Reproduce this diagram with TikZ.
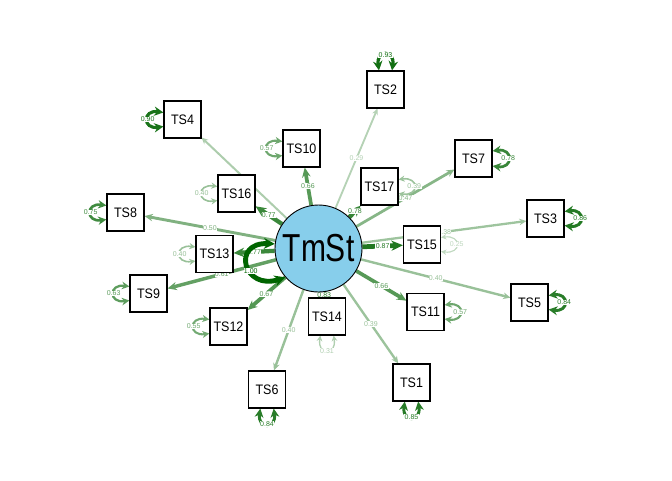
\documentclass[tikz,border=0pt]{standalone}
\usepackage{fontspec}
\setmainfont{Liberation Sans}
\usetikzlibrary{arrows.meta,calc}
\definecolor{gr}{RGB}{0,100,0}
\definecolor{lat}{RGB}{135,206,235}
\pgfdeclarelayer{bg}
\pgfsetlayers{bg,main}
\newcommand\tallA[1]{\scalebox{1}[1.1]{#1}}
\newcommand\tallB[1]{\scalebox{1}[1.3]{#1}}
\tikzset{
  mv/.style={draw, fill=white, line width=1.1pt, minimum size=37pt, inner sep=0pt,
    font=\fontsize{12.5}{14}\selectfont},
  lv/.style={circle, draw, fill=lat, line width=0.9pt, minimum size=87pt, inner sep=0pt,
    font=\fontsize{30}{32}\selectfont},
  ld/.style={draw=gr!#1!white, line width=0.4pt+0.05pt*#1,
    -{Stealth[length=3pt 1.8, width=3pt 1.5]}},
  rs/.style={draw=gr!#1!white, line width=0.4pt+0.03pt*#1,
    {Stealth[length=3pt 2, width=3pt 2]}-{Stealth[length=3pt 2, width=3pt 2]}},
  vs/.style={draw=gr!#1!white, line width=0.4pt+0.045pt*#1,
    {Stealth[length=3pt 1.6, width=3pt 1.6]}-{Stealth[length=3pt 1.6, width=3pt 1.6]}},
  elab/.style={text=gr!#1!white, fill=white, inner sep=0.4pt,
    font=\fontsize{7}{8}\selectfont},
}
\begin{document}
\begin{tikzpicture}[x=1pt,y=-1pt]
\useasboundingbox (0,0) rectangle (672,480);
% nodes
\node[lv] (TmSt) at (318.5,248.5) {\tallB{TmSt}};
\node[mv] (TS1)  at (411.5,382.5) {\tallA{TS1}};
\node[mv] (TS2)  at (385.5,89.5)  {\tallA{TS2}};
\node[mv] (TS3)  at (545.5,218.5) {\tallA{TS3}};
\node[mv] (TS4)  at (182.5,119.5) {\tallA{TS4}};
\node[mv] (TS5)  at (529.5,302.5) {\tallA{TS5}};
\node[mv] (TS6)  at (267,389.5)   {\tallA{TS6}};
\node[mv] (TS7)  at (473.5,158.5) {\tallA{TS7}};
\node[mv] (TS8)  at (125.5,212.5) {\tallA{TS8}};
\node[mv] (TS9)  at (148.5,293.5) {\tallA{TS9}};
\node[mv] (TS10) at (301.5,148.5) {\tallA{TS10}};
\node[mv] (TS11) at (425.5,312)   {\tallA{TS11}};
\node[mv] (TS12) at (228.5,326.5) {\tallA{TS12}};
\node[mv] (TS13) at (214.5,254)   {\tallA{TS13}};
\node[mv] (TS14) at (327,316.5)   {\tallA{TS14}};
\node[mv] (TS15) at (422,244.5)   {\tallA{TS15}};
\node[mv] (TS16) at (236.5,193.5) {\tallA{TS16}};
\node[mv] (TS17) at (379.5,186.5) {\tallA{TS17}};
\begin{pgfonlayer}{bg}
% loadings
\draw[ld=39] (TmSt) -- node[elab=39] (l1) {0.39} (TS1);
\draw[ld=29] (TmSt) -- node[elab=29] (l2) {0.29} (TS2);
\draw[ld=38] (TmSt) -- node[elab=38] (l3) {0.38} (TS3);
\draw[ld=32] (TmSt) -- (TS4);
\draw[ld=40] (TmSt) -- node[elab=40] (l5) {0.40} (TS5);
\draw[ld=40] (TmSt) -- node[elab=40] (l6) {0.40} (TS6);
\draw[ld=47] (TmSt) -- node[elab=47] (l7) {0.47} (TS7);
\draw[ld=50] (TmSt) -- node[elab=50] (l8) {0.50} (TS8);
\draw[ld=61] (TmSt) -- node[elab=61] (l9) {0.61} (TS9);
\draw[ld=66] (TmSt) -- node[elab=66] (l10) {0.66} (TS10);
\draw[ld=66] (TmSt) -- node[elab=66] (l11) {0.66} (TS11);
\draw[ld=67] (TmSt) -- node[elab=67] (l12) {0.67} (TS12);
\draw[ld=77] (TmSt) -- node[elab=77] (l13) {0.77} (TS13);
\draw[ld=83] (TmSt) -- node[elab=83] (l14) {0.83} (TS14);
\draw[ld=87] (TmSt) -- node[elab=87] (l15) {0.87} (TS15);
\draw[ld=77] (TmSt) -- node[elab=77] (l16) {0.77} (TS16);
\draw[ld=78] (TmSt) -- node[elab=78] (l17) {0.78} (TS17);
% latent variance
\draw[vs=100] (TmSt.174) .. controls +(-44,-2) and +(-42,14) .. node[elab=100, pos=0.6] (lv) {1.00} (TmSt.221);
% residuals: top
\draw[rs=93] ($(TS2.north)+(-6.5,0)$) .. controls +(-3,-21) and +(3,-21) .. node[elab=93] (r2) {0.93} ($(TS2.north)+(6.5,0)$);
% bottom
\draw[rs=85] ($(TS1.south)+(-6.7,0)$) .. controls +(-3,21) and +(3,21) .. node[elab=85] (r1) {0.85} ($(TS1.south)+(6.7,0)$);
\draw[rs=31] ($(TS14.south)+(-6.7,0)$) .. controls +(-3,21) and +(3,21) .. node[elab=31] (r14) {0.31} ($(TS14.south)+(6.7,0)$);
\draw[rs=84] ($(TS6.south)+(-6.7,0)$) .. controls +(-3,21) and +(3,21) .. node[elab=84] (r6) {0.84} ($(TS6.south)+(6.7,0)$);
% right
\draw[rs=86] ($(TS3.east)+(0,-7)$) .. controls +(21,-3) and +(21,3) .. node[elab=86] (r3) {0.86} ($(TS3.east)+(0,7)$);
\draw[rs=84] ($(TS5.east)+(0,-7)$) .. controls +(21,-3) and +(21,3) .. node[elab=84] (r5) {0.84} ($(TS5.east)+(0,7)$);
\draw[rs=78] ($(TS7.east)+(0,-7.5)$) .. controls +(21,-3) and +(21,3) .. node[elab=78] (r7) {0.78} ($(TS7.east)+(0,7.5)$);
\draw[rs=57] ($(TS11.east)+(0,-7)$) .. controls +(21,-3) and +(21,3) .. node[elab=57] (r11) {0.57} ($(TS11.east)+(0,7)$);
\draw[rs=25] ($(TS15.east)+(0,-7)$) .. controls +(21,-3) and +(21,3) .. node[elab=25] (r15) {0.25} ($(TS15.east)+(0,7)$);
\draw[rs=39] ($(TS17.east)+(0,-7)$) .. controls +(21,-3) and +(21,3) .. node[elab=39] (r17) {0.39} ($(TS17.east)+(0,7)$);
% left
\draw[rs=90] ($(TS4.west)+(0,-7)$) .. controls +(-21,-3) and +(-21,3) .. node[elab=90] (r4) {0.90} ($(TS4.west)+(0,7)$);
\draw[rs=75] ($(TS8.west)+(0,-7)$) .. controls +(-21,-3) and +(-21,3) .. node[elab=75] (r8) {0.75} ($(TS8.west)+(0,7)$);
\draw[rs=63] ($(TS9.west)+(0,-7)$) .. controls +(-21,-3) and +(-21,3) .. node[elab=63] (r9) {0.63} ($(TS9.west)+(0,7)$);
\draw[rs=57] ($(TS10.west)+(0,-7)$) .. controls +(-21,-3) and +(-21,3) .. node[elab=57] (r10) {0.57} ($(TS10.west)+(0,7)$);
\draw[rs=55] ($(TS12.west)+(0,-7)$) .. controls +(-21,-3) and +(-21,3) .. node[elab=55] (r12) {0.55} ($(TS12.west)+(0,7)$);
\draw[rs=40] ($(TS13.west)+(0,-7)$) .. controls +(-21,-3) and +(-21,3) .. node[elab=40] (r13) {0.40} ($(TS13.west)+(0,7)$);
\draw[rs=40] ($(TS16.west)+(0,-7)$) .. controls +(-21,-3) and +(-21,3) .. node[elab=40] (r16) {0.40} ($(TS16.west)+(0,7)$);
\end{pgfonlayer}
\end{tikzpicture}
\end{document}
